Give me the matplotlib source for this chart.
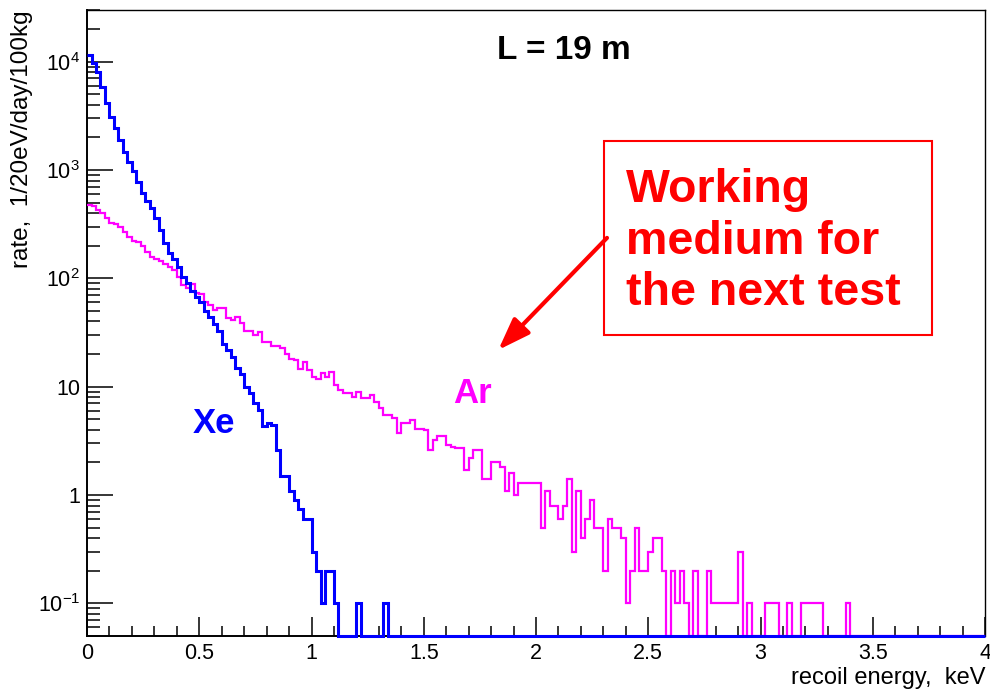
import numpy as np
import matplotlib
matplotlib.use("Agg")
import matplotlib.pyplot as plt
from matplotlib.patches import Rectangle, FancyArrowPatch
from matplotlib.ticker import FixedLocator, NullFormatter

plt.rcParams['font.family'] = ['Liberation Sans', 'DejaVu Sans']
plt.rcParams['mathtext.fontset'] = 'custom'
plt.rcParams['mathtext.rm'] = 'Liberation Sans'
plt.rcParams['mathtext.it'] = 'Liberation Sans'

# 20 eV bins from 0 to 4 keV
bin_edges = np.linspace(0.0, 4.0, 201)

# rate per bin (0 = empty bin)
xe_rate = [11500, 9800, 8100, 5850, 4200, 3100, 2450, 1900, 1480, 1180,
           990, 770, 610, 520, 444, 359, 280, 211, 171, 150,
           128, 104, 90, 76, 68, 60, 50, 44, 38, 33,
           25, 22, 19, 15, 13, 10, 8.8, 7.0, 6.1, 4.3,
           4.6, 4.4, 2.6, 1.5, 1.5, 1.1, 0.9, 0.75, 0.6, 0.6,
           0.3, 0.2, 0.1, 0.2, 0.2, 0.1, 0, 0, 0, 0,
           0.1, 0, 0, 0, 0, 0, 0.1]
xe_rate = xe_rate + [0] * (200 - len(xe_rate))

ar_rate = [476, 470, 430, 404, 362, 325, 320, 300, 270, 243,
           220, 216, 197, 177, 158, 150, 146, 136, 128, 120,
           102, 86, 82, 88, 73, 72, 61, 57, 51, 53,
           53, 43, 41, 44, 39, 33, 33, 30, 32, 26,
           26, 24, 24, 22.6, 20, 18, 17.7, 14.7, 17, 14.3,
           12.3, 11.9, 13.3, 12.3, 13.8, 10.4, 9.3, 8.7, 8.7, 8.1,
           9.0, 7.8, 7.8, 8.4, 7.3, 6.3, 5.5, 5.5, 5.1, 3.7,
           4.6, 4.6, 4.9, 4.1, 4.1, 4.0, 2.6, 3.2, 3.5, 3.5,
           2.9, 2.8, 2.7, 2.7, 1.7, 2.2, 2.6, 2.6, 1.4, 1.4,
           2.0, 2.0, 1.8, 1.1, 1.6, 1.0, 1.3, 1.3, 1.3, 1.3,
           1.3, 0.5, 1.1, 0.8, 0.8, 0.6, 0.8, 1.4, 0.3, 1.1,
           0.4, 0.6, 0.9, 0.5, 0.5, 0.2, 0.6, 0.5, 0.5, 0.4,
           0.1, 0.2, 0.5, 0.2, 0.2, 0.3, 0.4, 0.4, 0.2, 0,
           0.2, 0.1, 0.2, 0.1, 0, 0.2, 0, 0, 0.2, 0.1,
           0.1, 0.1, 0.1, 0.1, 0.1, 0.3, 0, 0.1, 0, 0,
           0, 0.1, 0.1, 0.1, 0, 0, 0.1, 0, 0, 0.1,
           0.1, 0.1, 0.1, 0.1, 0, 0, 0, 0, 0, 0.1]
ar_rate = ar_rate + [0] * (200 - len(ar_rate))

y_ticks = [0.1, 1, 10, 100, 1000, 10000]
y_tick_labels = ['$10^{-1}$', '1', '10', '$10^{2}$', '$10^{3}$', '$10^{4}$']
x_ticks = [0, 0.5, 1, 1.5, 2, 2.5, 3, 3.5, 4]
x_tick_labels = ['0', '0.5', '1', '1.5', '2', '2.5', '3', '3.5', '4']

YMIN, YMAX = 0.05, 3.0e4

fig = plt.figure(figsize=(9.9, 6.91), dpi=100)
ax = fig.add_axes([0.0879, 0.0796, 0.9071, 0.9059])
ax.set_yscale('log')
ax.set_xlim(0, 4)
ax.set_ylim(YMIN, YMAX)

# empty bins sit on the bottom of the frame, as in ROOT
ar = np.where(np.array(ar_rate) > 0, ar_rate, YMIN)
xe = np.where(np.array(xe_rate) > 0, xe_rate, YMIN)
ax.stairs(ar, bin_edges, baseline=None, color='#ff00ff', lw=1.6, clip_on=False, zorder=3)
ax.stairs(xe, bin_edges, baseline=None, color='#0000ff', lw=2.2, clip_on=False, zorder=4)

# ROOT-like axes
ax.set_yticks(y_ticks)
ax.set_yticklabels(y_tick_labels)
minor_y = [m * 10.0 ** e for e in range(-2, 5) for m in range(2, 10)]
ax.yaxis.set_minor_locator(FixedLocator([v for v in minor_y if YMIN <= v <= YMAX]))
ax.yaxis.set_minor_formatter(NullFormatter())
ax.set_xticks(x_ticks)
ax.set_xticklabels(x_tick_labels)
ax.set_xticks(np.arange(0, 4.01, 0.1), minor=True)
ax.tick_params(axis='y', which='major', direction='in', length=19, width=1.1,
               labelsize=15.5, pad=5, right=False)
ax.tick_params(axis='y', which='minor', direction='in', length=9.5, width=1.1, right=False)
ax.tick_params(axis='x', which='major', direction='in', length=13.5, width=1.1,
               labelsize=15.5, pad=5, top=False)
ax.tick_params(axis='x', which='minor', direction='in', length=7.5, width=1.1, top=False)
for side in ['left', 'bottom']:
    ax.spines[side].set_linewidth(1.4)
for side in ['top', 'right']:
    ax.spines[side].set_linewidth(1.0)

fig.text(0.022, 0.9855, 'rate,  1/20eV/day/100kg', rotation=90, ha='center', va='top', fontsize=17.5)
fig.text(0.995, 0.019, 'recoil energy,  keV', ha='right', va='center', fontsize=17)

ax.text(0.531, 0.936, 'L = 19 m', transform=ax.transAxes, ha='center', va='center',
        fontsize=24, fontweight='bold')
ax.text(0.141, 0.340, 'Xe', transform=ax.transAxes, ha='center', va='center',
        fontsize=25, fontweight='bold', color='#0000ff')
ax.text(0.429, 0.388, 'Ar', transform=ax.transAxes, ha='center', va='center',
        fontsize=25, fontweight='bold', color='#ff00ff')

# annotation box and arrow
ax.add_patch(Rectangle((0.576, 0.481), 0.365, 0.310, transform=ax.transAxes,
                       fill=False, edgecolor='red', lw=1.5, zorder=5))
ax.text(0.600, 0.630, 'Working\nmedium for\nthe next test', transform=ax.transAxes,
        ha='left', va='center', fontsize=33.5, fontweight='bold', color='red',
        linespacing=1.22, zorder=5)
ax.add_patch(FancyArrowPatch((0.579, 0.636), (0.458, 0.457), transform=ax.transAxes,
                             arrowstyle='-|>,head_length=14,head_width=5', color='red',
                             lw=3, mutation_scale=1.4, shrinkA=0, shrinkB=0, zorder=5))

fig.savefig('out.png', dpi=100)
